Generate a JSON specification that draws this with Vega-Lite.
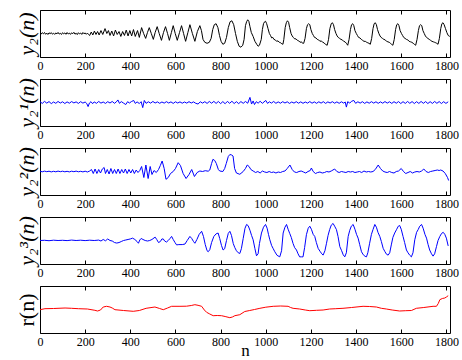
{
"$schema": "https://vega.github.io/schema/vega-lite/v6.json",
"padding": {"left": 14, "top": 9, "right": 5, "bottom": 27},
"background": "white",
"bounds": "flush",
"spacing": 22,
"config": {
  "view": {"stroke": "black", "strokeWidth": 1},
  "font": "Liberation Serif",
  "axis": {"labelFont": "Liberation Serif", "labelFontSize": 12, "labelColor": "black", "titleFont": "Liberation Serif", "titleColor": "black", "titleFontWeight": "normal", "grid": false, "domain": false, "tickColor": "black", "labelFlush": false, "format": "d"},
  "axisY": {"ticks": true, "tickSize": 0, "tickOpacity": 0, "labels": false, "titleFontSize": 22, "titlePadding": 2, "titleAngle": -90}
},
"datasets": {
"p1": [{"n":0,"v":0.5},{"n":5,"v":-0.6},{"n":10,"v":0.8},{"n":15,"v":-0.3},{"n":20,"v":1.0},{"n":25,"v":-0.8},{"n":30,"v":0.4},{"n":35,"v":-1.0},{"n":40,"v":0.7},{"n":45,"v":-0.2},{"n":50,"v":0.9},{"n":55,"v":-0.7},{"n":60,"v":0.3},{"n":65,"v":-0.9},{"n":70,"v":0.6},{"n":75,"v":-0.4},{"n":80,"v":1.1},{"n":85,"v":-0.6},{"n":90,"v":0.2},{"n":95,"v":-1.0},{"n":100,"v":0.8},{"n":105,"v":-0.3},{"n":110,"v":0.6},{"n":115,"v":-0.8},{"n":120,"v":1.0},{"n":125,"v":-0.5},{"n":130,"v":0.4},{"n":135,"v":-0.9},{"n":140,"v":0.7},{"n":145,"v":-0.2},{"n":150,"v":1.2},{"n":155,"v":-0.7},{"n":160,"v":0.3},{"n":165,"v":-1.1},{"n":170,"v":0.8},{"n":175,"v":-0.4},{"n":180,"v":0.5},{"n":185,"v":-0.9},{"n":190,"v":1.0},{"n":195,"v":-0.3},{"n":200,"v":0.6},{"n":205,"v":-0.8},{"n":210,"v":0.4},{"n":215,"v":-1.0},
{"n":220,"v":-2},{"n":227,"v":1.5},{"n":234,"v":-1.5},{"n":241,"v":2.5},{"n":248,"v":-1},{"n":255,"v":2},{"n":262,"v":-1.5},{"n":270,"v":3},{"n":278,"v":-1},{"n":288,"v":5},{"n":296,"v":0},{"n":303,"v":3},{"n":310,"v":-2},{"n":318,"v":2.5},{"n":326,"v":-2.5},{"n":334,"v":3.5},{"n":342,"v":-1},{"n":350,"v":2},{"n":358,"v":-3},{"n":366,"v":2},{"n":374,"v":-2},{"n":382,"v":3.5},{"n":390,"v":-2.5},{"n":398,"v":3},{"n":406,"v":-2.5},{"n":414,"v":4},{"n":422,"v":-3},{"n":432,"v":3},{"n":440,"v":-4},
{"n":450,"v":6},{"n":459,"v":0},{"n":468,"v":-5},{"n":476,"v":1},{"n":484,"v":6},{"n":493,"v":0},{"n":502,"v":-6},{"n":510,"v":1},{"n":519,"v":7},{"n":528,"v":0},{"n":538,"v":-7},{"n":547,"v":1},{"n":556,"v":7},{"n":565,"v":0},{"n":573,"v":-7},{"n":582,"v":1},{"n":590,"v":8},{"n":599,"v":0},{"n":608,"v":-7},{"n":618,"v":1},{"n":627,"v":8},{"n":636,"v":0},{"n":645,"v":-8},{"n":655,"v":1},{"n":664,"v":9},{"n":675,"v":0},{"n":686,"v":-8},{"n":697,"v":2},{"n":708,"v":8},{"n":715,"v":3},{"n":722,"v":-6},{"n":730,"v":-9},{"n":740,"v":-10},{"n":750,"v":-9},{"n":758,"v":-5},{"n":765,"v":4},{"n":772,"v":9},{"n":780,"v":10},{"n":788,"v":6},{"n":795,"v":-2},{"n":802,"v":-8},{"n":810,"v":-11},{"n":818,"v":-10},{"n":826,"v":-4},{"n":834,"v":6},
{"n":842,"v":12},{"n":850,"v":13},{"n":858,"v":9},{"n":866,"v":0},{"n":874,"v":-8},{"n":882,"v":-13},{"n":890,"v":-14},{"n":898,"v":-12},{"n":904,"v":-6},{"n":910,"v":8},{"n":915,"v":12},{"n":920,"v":14},{"n":925,"v":12.5},{"n":930,"v":7},{"n":936,"v":1},{"n":944,"v":-3},{"n":952,"v":-8},{"n":960,"v":-11},{"n":966,"v":-13},{"n":972,"v":-12},{"n":980,"v":-6},{"n":985,"v":4},{"n":990,"v":10},{"n":995,"v":12},{"n":999,"v":12.5},{"n":1004,"v":10},{"n":1010,"v":5},{"n":1016,"v":0},{"n":1021,"v":-2},{"n":1026,"v":-4.5},{"n":1031,"v":-4},{"n":1036,"v":-6},{"n":1042,"v":-6.5},{"n":1048,"v":-8},{"n":1054,"v":-7.5},{"n":1060,"v":-9},{"n":1066,"v":-9.5},{"n":1071,"v":-10.5},{"n":1076,"v":-11},{"n":1080,"v":-6},{"n":1086,"v":6},{"n":1091,"v":11},{"n":1096,"v":13},{"n":1101,"v":11.5},{"n":1106,"v":6},{"n":1112,"v":0},{"n":1117,"v":-2.5},{"n":1122,"v":-4},{"n":1128,"v":-5.5},{"n":1134,"v":-5.5},{"n":1140,"v":-7},{"n":1146,"v":-7.5},{"n":1152,"v":-9},{"n":1158,"v":-8.5},{"n":1163,"v":-10},{"n":1168,"v":-10},{"n":1174,"v":-5},{"n":1180,"v":5},{"n":1185,"v":9},{"n":1190,"v":10},{"n":1195,"v":9},{"n":1200,"v":4},{"n":1206,"v":0},{"n":1211,"v":-2},{"n":1216,"v":-4},{"n":1222,"v":-4.5},{"n":1228,"v":-6},{"n":1234,"v":-6.5},{"n":1240,"v":-8},{"n":1246,"v":-7.5},{"n":1252,"v":-9},{"n":1258,"v":-9.5},{"n":1264,"v":-11},{"n":1272,"v":-12},{"n":1278,"v":-6},{"n":1284,"v":5},{"n":1290,"v":10},{"n":1295,"v":11},{"n":1300,"v":9},{"n":1305,"v":4},{"n":1311,"v":0},{"n":1316,"v":-2.5},{"n":1321,"v":-4},{"n":1327,"v":-5},{"n":1333,"v":-6},{"n":1339,"v":-6.5},{"n":1345,"v":-8},{"n":1351,"v":-8.5},{"n":1357,"v":-10},{"n":1363,"v":-12},{"n":1369,"v":-6},{"n":1375,"v":4},{"n":1380,"v":9},{"n":1385,"v":10},{"n":1390,"v":8},{"n":1395,"v":3},{"n":1401,"v":0},{"n":1406,"v":-2},{"n":1411,"v":-4},{"n":1417,"v":-4.5},{"n":1423,"v":-6},{"n":1429,"v":-7},{"n":1435,"v":-8},{"n":1441,"v":-8},{"n":1447,"v":-9},{"n":1452,"v":-9.5},{"n":1457,"v":-10},{"n":1463,"v":-11},{"n":1469,"v":-5},{"n":1475,"v":5},{"n":1480,"v":10},{"n":1485,"v":11},{"n":1490,"v":9},{"n":1495,"v":4},{"n":1501,"v":0},{"n":1506,"v":-2.5},{"n":1511,"v":-4},{"n":1517,"v":-5},{"n":1523,"v":-6},{"n":1529,"v":-6.5},{"n":1535,"v":-8},{"n":1541,"v":-8.5},{"n":1547,"v":-9},{"n":1552,"v":-10},{"n":1557,"v":-11},{"n":1563,"v":-12},{"n":1569,"v":-6},{"n":1575,"v":4},{"n":1580,"v":9},{"n":1585,"v":10},{"n":1590,"v":8},{"n":1595,"v":3},{"n":1601,"v":0},{"n":1606,"v":-2},{"n":1611,"v":-4},{"n":1617,"v":-5},{"n":1623,"v":-6},{"n":1629,"v":-6.5},{"n":1635,"v":-8},{"n":1641,"v":-8.5},{"n":1647,"v":-9},{"n":1653,"v":-10},{"n":1658,"v":-11},{"n":1664,"v":-12},{"n":1670,"v":-6},{"n":1676,"v":3},{"n":1681,"v":8},{"n":1686,"v":9},{"n":1691,"v":8},{"n":1696,"v":3},{"n":1702,"v":0},{"n":1707,"v":-2.5},{"n":1712,"v":-4},{"n":1718,"v":-5},{"n":1724,"v":-6},{"n":1730,"v":-7},{"n":1736,"v":-8},{"n":1742,"v":-8.5},{"n":1748,"v":-9},{"n":1753,"v":-9.5},{"n":1757,"v":-10},{"n":1763,"v":-11},{"n":1769,"v":-5},{"n":1775,"v":5},{"n":1780,"v":10},{"n":1785,"v":11},{"n":1790,"v":9},{"n":1796,"v":5},{"n":1802,"v":1},{"n":1808,"v":-2},{"n":1815,"v":-3}],
"p2": [{"n":0,"v":0.8},{"n":10,"v":-0.9},{"n":20,"v":1.1},{"n":30,"v":-0.6},{"n":40,"v":0.9},{"n":50,"v":-1.1},{"n":60,"v":0.5},{"n":70,"v":-0.8},{"n":80,"v":1.0},{"n":90,"v":-0.5},{"n":100,"v":0.7},{"n":110,"v":-1.0},{"n":120,"v":0.6},{"n":130,"v":-0.7},{"n":140,"v":0.9},{"n":150,"v":-0.4},{"n":160,"v":0.6},{"n":170,"v":-0.9},{"n":180,"v":0.8},{"n":190,"v":-0.6},{"n":200,"v":0.5},{"n":207,"v":-1.0},{"n":213,"v":-4.0},{"n":219,"v":-0.5},{"n":226,"v":0.8},{"n":233,"v":-1.2},{"n":240,"v":0.6},{"n":250,"v":-0.8},{"n":260,"v":1.0},{"n":270,"v":-0.6},{"n":280,"v":0.5},{"n":290,"v":-0.9},{"n":300,"v":0.8},{"n":310,"v":-0.5},{"n":320,"v":1.0},{"n":330,"v":-0.8},{"n":338,"v":0.6},{"n":345,"v":2.5},{"n":352,"v":-0.8},{"n":360,"v":0.9},{"n":370,"v":-0.6},{"n":380,"v":-2.0},{"n":388,"v":0.8},{"n":396,"v":-0.5},{"n":405,"v":0.9},{"n":415,"v":2.0},{"n":422,"v":-0.9},{"n":430,"v":0.6},{"n":440,"v":-1.0},{"n":448,"v":0.8},{"n":455,"v":-5.0},{"n":462,"v":2.0},{"n":470,"v":-0.8},{"n":480,"v":0.7},{"n":490,"v":-0.6},{"n":500,"v":1.0},{"n":510,"v":-0.5},{"n":520,"v":0.6},{"n":530,"v":-0.8},{"n":540,"v":0.5},{"n":550,"v":-0.6},{"n":560,"v":0.8},{"n":570,"v":-0.5},{"n":580,"v":0.6},{"n":590,"v":-0.9},{"n":600,"v":0.7},{"n":610,"v":-0.5},{"n":620,"v":0.6},{"n":630,"v":-0.7},{"n":640,"v":0.5},{"n":650,"v":-0.6},{"n":660,"v":0.8},{"n":670,"v":-0.5},{"n":680,"v":0.6},{"n":690,"v":-0.8},{"n":700,"v":-1.5},{"n":710,"v":0.7},{"n":720,"v":-0.6},{"n":730,"v":0.8},{"n":740,"v":-0.9},{"n":750,"v":1.0},{"n":760,"v":-0.7},{"n":770,"v":1.1},{"n":780,"v":-0.9},{"n":790,"v":1.0},{"n":800,"v":-1.1},{"n":810,"v":0.9},{"n":820,"v":-1.2},{"n":830,"v":1.1},{"n":840,"v":-0.8},{"n":850,"v":1.2},{"n":860,"v":-1.0},{"n":870,"v":0.8},{"n":880,"v":-1.1},{"n":890,"v":0.9},{"n":900,"v":-0.8},{"n":910,"v":1.0},{"n":920,"v":-0.7},{"n":930,"v":5.0},{"n":937,"v":-1.5},{"n":944,"v":1.5},{"n":950,"v":-2.0},{"n":958,"v":0.8},{"n":966,"v":-0.7},{"n":975,"v":1.2},{"n":985,"v":-0.8},{"n":1000,"v":2.0},{"n":1008,"v":-0.9},{"n":1016,"v":0.7},{"n":1025,"v":-0.6},{"n":1035,"v":1.0},{"n":1045,"v":-0.8},{"n":1055,"v":0.6},{"n":1065,"v":-0.7},{"n":1075,"v":0.8},{"n":1085,"v":-0.5},{"n":1095,"v":0.7},{"n":1105,"v":-0.9},{"n":1115,"v":0.5},{"n":1125,"v":-0.6},{"n":1135,"v":0.8},{"n":1145,"v":-0.7},{"n":1155,"v":0.6},{"n":1165,"v":-0.8},{"n":1175,"v":0.5},{"n":1185,"v":-0.6},{"n":1195,"v":0.9},{"n":1205,"v":-0.7},{"n":1215,"v":0.6},{"n":1225,"v":-0.8},{"n":1235,"v":0.7},{"n":1245,"v":-0.6},{"n":1255,"v":0.8},{"n":1265,"v":-0.9},{"n":1275,"v":0.6},{"n":1285,"v":-0.5},{"n":1295,"v":0.8},{"n":1305,"v":-0.7},{"n":1315,"v":0.6},{"n":1325,"v":-0.8},{"n":1335,"v":0.7},{"n":1345,"v":-0.6},{"n":1352,"v":0.5},{"n":1357,"v":-4.5},{"n":1363,"v":0.8},{"n":1372,"v":-0.6},{"n":1380,"v":1.2},{"n":1390,"v":2.0},{"n":1398,"v":-0.8},{"n":1408,"v":0.7},{"n":1418,"v":-0.6},{"n":1428,"v":0.8},{"n":1438,"v":-0.9},{"n":1448,"v":0.6},{"n":1458,"v":-0.7},{"n":1468,"v":0.8},{"n":1478,"v":-0.6},{"n":1488,"v":0.7},{"n":1498,"v":-0.8},{"n":1508,"v":0.6},{"n":1518,"v":-0.7},{"n":1528,"v":0.9},{"n":1538,"v":-0.6},{"n":1548,"v":0.7},{"n":1558,"v":-0.9},{"n":1568,"v":0.8},{"n":1578,"v":-0.7},{"n":1588,"v":0.9},{"n":1598,"v":-1.0},{"n":1608,"v":0.8},{"n":1618,"v":-0.9},{"n":1628,"v":1.0},{"n":1638,"v":-0.8},{"n":1648,"v":0.9},{"n":1658,"v":-1.0},{"n":1668,"v":0.8},{"n":1678,"v":-0.9},{"n":1688,"v":1.0},{"n":1698,"v":-0.8},{"n":1708,"v":0.9},{"n":1718,"v":-1.0},{"n":1728,"v":0.8},{"n":1738,"v":-0.9},{"n":1748,"v":1.0},{"n":1758,"v":-0.8},{"n":1768,"v":0.9},{"n":1778,"v":-1.0},{"n":1788,"v":0.8},{"n":1798,"v":-0.9},{"n":1808,"v":0.7}],
"p3": [{"n":0,"v":0.3},{"n":10,"v":-0.3},{"n":20,"v":0.4},{"n":30,"v":-0.2},{"n":40,"v":0.3},{"n":50,"v":-0.4},{"n":60,"v":0.2},{"n":70,"v":-0.3},{"n":80,"v":0.4},{"n":90,"v":-0.2},{"n":100,"v":0.3},{"n":110,"v":-0.3},{"n":120,"v":0.2},{"n":130,"v":-0.4},{"n":140,"v":0.3},{"n":150,"v":-0.2},{"n":160,"v":0.4},{"n":170,"v":-0.3},{"n":180,"v":0.2},{"n":190,"v":-0.4},{"n":200,"v":0.3},{"n":210,"v":-0.5},{"n":220,"v":0.5},{"n":228,"v":2},{"n":236,"v":-2},{"n":244,"v":2.5},{"n":252,"v":-2},{"n":260,"v":2},{"n":268,"v":-1.5},{"n":276,"v":2.5},{"n":284,"v":4},{"n":290,"v":-2},{"n":298,"v":2},{"n":306,"v":-2.5},{"n":314,"v":3},{"n":322,"v":-2},{"n":330,"v":2},{"n":338,"v":-2},{"n":346,"v":2.5},{"n":354,"v":-2},{"n":362,"v":2},{"n":370,"v":-1.5},{"n":378,"v":2.5},{"n":386,"v":-2},{"n":394,"v":2},{"n":402,"v":-1.5},{"n":410,"v":2},{"n":418,"v":-2},{"n":426,"v":1.5},{"n":434,"v":-1},{"n":442,"v":1},{"n":450,"v":5},{"n":460,"v":-6},{"n":469,"v":6.5},{"n":479,"v":-7},{"n":488,"v":5},{"n":496,"v":-3},{"n":505,"v":1},{"n":515,"v":-1},{"n":525,"v":2},{"n":533,"v":6},{"n":541,"v":10.5},{"n":550,"v":3},{"n":558,"v":-7.8},{"n":568,"v":-6},{"n":578,"v":-2},{"n":590,"v":0},{"n":600,"v":3},{"n":612,"v":8.8},{"n":622,"v":6},{"n":634,"v":-2},{"n":647,"v":-7},{"n":660,"v":-3},{"n":672,"v":2},{"n":684,"v":-5},{"n":696,"v":-1},{"n":708,"v":0.5},{"n":720,"v":0},{"n":732,"v":0.8},{"n":745,"v":0.3},{"n":752,"v":1.5},{"n":760,"v":8},{"n":766,"v":12.2},{"n":774,"v":11},{"n":781,"v":8},{"n":790,"v":2},{"n":796,"v":0.5},{"n":810,"v":0},{"n":818,"v":3},{"n":825,"v":8},{"n":834,"v":15},{"n":841,"v":17},{"n":849,"v":16.5},{"n":855,"v":15.5},{"n":862,"v":3},{"n":870,"v":-1.5},{"n":885,"v":-2.8},{"n":900,"v":0},{"n":910,"v":3},{"n":918,"v":6.5},{"n":926,"v":5},{"n":934,"v":2},{"n":944,"v":0.5},{"n":955,"v":-1},{"n":965,"v":0},{"n":975,"v":-1.5},{"n":985,"v":0.5},{"n":995,"v":-0.5},{"n":1005,"v":-1},{"n":1015,"v":0},{"n":1025,"v":-1},{"n":1035,"v":-0.5},{"n":1045,"v":-1.5},{"n":1055,"v":-0.5},{"n":1065,"v":-1},{"n":1075,"v":0},{"n":1085,"v":0.5},{"n":1095,"v":3},{"n":1107,"v":6.5},{"n":1117,"v":2},{"n":1127,"v":-0.5},{"n":1137,"v":-1},{"n":1147,"v":0},{"n":1157,"v":0.5},{"n":1167,"v":-0.5},{"n":1177,"v":-1.5},{"n":1187,"v":0},{"n":1197,"v":1},{"n":1202,"v":3.5},{"n":1210,"v":0},{"n":1220,"v":-2},{"n":1230,"v":-1},{"n":1240,"v":-0.5},{"n":1250,"v":-1.5},{"n":1260,"v":-1},{"n":1270,"v":0},{"n":1280,"v":-0.5},{"n":1290,"v":0.5},{"n":1305,"v":2.5},{"n":1315,"v":0},{"n":1325,"v":-1},{"n":1335,"v":0},{"n":1345,"v":-0.5},{"n":1355,"v":-1},{"n":1365,"v":0},{"n":1375,"v":-0.5},{"n":1385,"v":0},{"n":1395,"v":-1},{"n":1405,"v":-0.5},{"n":1415,"v":0},{"n":1425,"v":-1},{"n":1435,"v":0.5},{"n":1445,"v":-0.5},{"n":1455,"v":0},{"n":1465,"v":-0.5},{"n":1475,"v":0},{"n":1485,"v":2},{"n":1498,"v":6.5},{"n":1508,"v":3},{"n":1518,"v":0.5},{"n":1528,"v":-0.5},{"n":1538,"v":-1},{"n":1548,"v":0},{"n":1558,"v":-1},{"n":1568,"v":-1.5},{"n":1578,"v":0},{"n":1588,"v":0.5},{"n":1600,"v":3},{"n":1610,"v":0},{"n":1620,"v":-2},{"n":1630,"v":-1},{"n":1640,"v":0},{"n":1650,"v":-1.5},{"n":1660,"v":-0.5},{"n":1670,"v":0},{"n":1680,"v":-0.5},{"n":1690,"v":0.5},{"n":1700,"v":2.5},{"n":1710,"v":0},{"n":1720,"v":-1},{"n":1730,"v":0},{"n":1740,"v":0.5},{"n":1750,"v":1},{"n":1760,"v":1.5},{"n":1768,"v":1},{"n":1775,"v":1.5},{"n":1785,"v":0.5},{"n":1795,"v":-2},{"n":1805,"v":-6},{"n":1810,"v":-9}],
"p4": [{"n":0,"v":0},{"n":20,"v":0.2},{"n":40,"v":-0.2},{"n":60,"v":0.3},{"n":80,"v":0},{"n":100,"v":0.2},{"n":120,"v":-0.1},{"n":140,"v":0.4},{"n":160,"v":0},{"n":180,"v":0.3},{"n":200,"v":-0.1},{"n":220,"v":0.3},{"n":240,"v":0},{"n":260,"v":0.4},{"n":270,"v":-0.5},{"n":280,"v":1},{"n":290,"v":-0.3},{"n":300,"v":1.5},{"n":310,"v":0},{"n":320,"v":-0.5},{"n":330,"v":-2},{"n":340,"v":-2.5},{"n":350,"v":-2},{"n":360,"v":-1},{"n":370,"v":0},{"n":380,"v":0.5},{"n":390,"v":1},{"n":400,"v":1.5},{"n":410,"v":2.3},{"n":420,"v":1},{"n":430,"v":-1},{"n":436,"v":-2.7},{"n":442,"v":0.5},{"n":448,"v":2},{"n":456,"v":1},{"n":466,"v":0},{"n":476,"v":-0.5},{"n":486,"v":0},{"n":496,"v":1},{"n":505,"v":2.5},{"n":510,"v":3.3},{"n":517,"v":1},{"n":525,"v":-2},{"n":533,"v":-1},{"n":540,"v":1.5},{"n":546,"v":1.5},{"n":552,"v":-0.5},{"n":560,"v":-1.5},{"n":568,"v":0},{"n":576,"v":2},{"n":583,"v":4},{"n":590,"v":1},{"n":598,"v":-2},{"n":605,"v":-4.3},{"n":615,"v":-4},{"n":630,"v":-4},{"n":642,"v":-3.5},{"n":652,"v":0},{"n":664,"v":4},{"n":672,"v":2},{"n":680,"v":-1},{"n":686,"v":-2.7},{"n":695,"v":1},{"n":705,"v":6},{"n":716,"v":9},{"n":724,"v":4},{"n":732,"v":-4},{"n":740,"v":-10},{"n":745,"v":-11},{"n":752,"v":-9},{"n":760,"v":-2},{"n":770,"v":4},{"n":780,"v":6.5},{"n":789,"v":7.3},{"n":796,"v":2},{"n":804,"v":-5},{"n":811,"v":-9.3},{"n":818,"v":-8},{"n":826,"v":0},{"n":834,"v":7},{"n":841,"v":9},{"n":848,"v":5},{"n":856,"v":-3},{"n":863,"v":-7},{"n":870,"v":-10},{"n":878,"v":-12},{"n":885,"v":-12.7},{"n":892,"v":-8},{"n":900,"v":2},{"n":908,"v":12},{"n":915,"v":15.7},{"n":922,"v":14.5},{"n":930,"v":10},{"n":937,"v":5},{"n":944,"v":0.7},{"n":952,"v":-8},{"n":959,"v":-15},{"n":966,"v":-13},{"n":972,"v":-3},{"n":981,"v":7.3},{"n":990,"v":13},{"n":999,"v":15.7},{"n":1006,"v":12},{"n":1012,"v":6},{"n":1018,"v":0.7},{"n":1026,"v":-5},{"n":1033,"v":-8},{"n":1040,"v":-11},{"n":1050,"v":-14.5},{"n":1062,"v":-16},{"n":1070,"v":-10},{"n":1077,"v":7.3},{"n":1085,"v":13},{"n":1092,"v":15.7},{"n":1099,"v":11},{"n":1106,"v":7},{"n":1113,"v":3},{"n":1121,"v":-3},{"n":1128,"v":-7},{"n":1136,"v":-9.3},{"n":1143,"v":-13},{"n":1150,"v":-16},{"n":1158,"v":-16},{"n":1165,"v":-16},{"n":1172,"v":-7},{"n":1180,"v":5.7},{"n":1188,"v":12},{"n":1195,"v":14},{"n":1202,"v":11},{"n":1210,"v":6},{"n":1217,"v":4},{"n":1224,"v":-2},{"n":1232,"v":-7.7},{"n":1240,"v":-10.5},{"n":1248,"v":-13},{"n":1254,"v":-14.3},{"n":1262,"v":-10},{"n":1269,"v":-2.7},{"n":1276,"v":5},{"n":1283,"v":10.7},{"n":1290,"v":15},{"n":1298,"v":16.7},{"n":1305,"v":14},{"n":1313,"v":10.7},{"n":1320,"v":4},{"n":1328,"v":-6},{"n":1336,"v":-10},{"n":1343,"v":-14},{"n":1350,"v":-16},{"n":1357,"v":-12},{"n":1365,"v":4},{"n":1372,"v":10},{"n":1379,"v":14},{"n":1387,"v":15.7},{"n":1395,"v":11},{"n":1402,"v":6},{"n":1409,"v":2.3},{"n":1416,"v":-4},{"n":1424,"v":-11},{"n":1432,"v":-14},{"n":1440,"v":-15.5},{"n":1446,"v":-16},{"n":1452,"v":-12},{"n":1460,"v":-2.7},{"n":1468,"v":6},{"n":1475,"v":10.7},{"n":1483,"v":15.7},{"n":1490,"v":13},{"n":1497,"v":8},{"n":1505,"v":4},{"n":1512,"v":-1},{"n":1520,"v":-7.7},{"n":1528,"v":-11},{"n":1535,"v":-13.5},{"n":1542,"v":-14.3},{"n":1549,"v":-12},{"n":1556,"v":-4.3},{"n":1563,"v":3},{"n":1571,"v":7.3},{"n":1580,"v":11},{"n":1587,"v":14},{"n":1593,"v":14.7},{"n":1600,"v":11},{"n":1608,"v":4},{"n":1615,"v":-2},{"n":1623,"v":-9.3},{"n":1630,"v":-12},{"n":1638,"v":-14.5},{"n":1645,"v":-16},{"n":1652,"v":-12},{"n":1660,"v":0.7},{"n":1668,"v":8},{"n":1675,"v":10.7},{"n":1682,"v":14},{"n":1690,"v":15.7},{"n":1697,"v":12},{"n":1705,"v":6},{"n":1712,"v":2.3},{"n":1719,"v":-4},{"n":1726,"v":-9.3},{"n":1734,"v":-13},{"n":1741,"v":-15.3},{"n":1748,"v":-13},{"n":1756,"v":-6},{"n":1763,"v":0},{"n":1771,"v":4},{"n":1779,"v":7},{"n":1786,"v":8},{"n":1793,"v":6},{"n":1800,"v":2.3},{"n":1808,"v":-5.3}],
"p5": [{"n":0,"v":-0.2},{"n":22,"v":0.8},{"n":60,"v":1.0},{"n":111,"v":1.5},{"n":140,"v":1.2},{"n":170,"v":0.8},{"n":210,"v":0.5},{"n":243,"v":-0.8},{"n":255,"v":-1.5},{"n":268,"v":-0.5},{"n":280,"v":2.5},{"n":295,"v":3.2},{"n":310,"v":2.5},{"n":320,"v":1.5},{"n":332,"v":-0.2},{"n":370,"v":-1.0},{"n":413,"v":-1.8},{"n":440,"v":-1.0},{"n":470,"v":1.2},{"n":509,"v":2.5},{"n":530,"v":1.0},{"n":546,"v":-0.2},{"n":565,"v":1.5},{"n":583,"v":3.2},{"n":620,"v":3.2},{"n":649,"v":3.3},{"n":670,"v":4.0},{"n":686,"v":4.8},{"n":700,"v":4.2},{"n":716,"v":3.2},{"n":728,"v":-0.5},{"n":738,"v":-2.8},{"n":752,"v":-4.5},{"n":767,"v":-6.2},{"n":785,"v":-6.0},{"n":804,"v":-6.2},{"n":820,"v":-7.0},{"n":841,"v":-8.2},{"n":852,"v":-7.5},{"n":863,"v":-6.2},{"n":885,"v":-5.2},{"n":907,"v":-2.0},{"n":929,"v":-1.0},{"n":950,"v":0.0},{"n":974,"v":1.2},{"n":1000,"v":2.3},{"n":1033,"v":3.2},{"n":1066,"v":3.5},{"n":1099,"v":3.2},{"n":1110,"v":2.0},{"n":1121,"v":1.2},{"n":1150,"v":0.5},{"n":1175,"v":-0.5},{"n":1195,"v":-1.2},{"n":1225,"v":-0.8},{"n":1254,"v":-0.5},{"n":1283,"v":0.5},{"n":1310,"v":0.8},{"n":1342,"v":1.2},{"n":1380,"v":2.0},{"n":1431,"v":3.2},{"n":1460,"v":3.0},{"n":1490,"v":2.5},{"n":1512,"v":1.2},{"n":1534,"v":0.5},{"n":1560,"v":-0.5},{"n":1593,"v":-1.5},{"n":1620,"v":-1.2},{"n":1645,"v":-1.0},{"n":1667,"v":1.2},{"n":1700,"v":2.0},{"n":1741,"v":3.2},{"n":1756,"v":3.2},{"n":1764,"v":6.0},{"n":1771,"v":9.8},{"n":1782,"v":11.0},{"n":1793,"v":11.5},{"n":1800,"v":12.5},{"n":1808,"v":13.8}]
},
"vconcat": [
{"width": 410, "height": 47, "data": {"name": "p1"},
 "layer": [
  {"mark": {"type": "line", "color": "black", "strokeWidth": 1},
   "encoding": {
    "x": {"field": "n", "type": "quantitative", "scale": {"domain": [0, 1816], "nice": false, "zero": false}, "axis": {"orient": "bottom", "values": [0,200,400,600,800,1000,1200,1400,1600,1800], "tickSize": -4, "labelPadding": 7, "title": null}},
    "y": {"field": "v", "type": "quantitative", "title": "y₂(n)", "scale": {"domain": [-24, 24], "nice": false}, "axis": {"titleFontStyle": "italic"}}}},
  {"mark": {"type": "line", "strokeOpacity": 0},
   "encoding": {
    "x": {"field": "n", "type": "quantitative", "axis": {"orient": "top", "values": [0,200,400,600,800,1000,1200,1400,1600,1800], "tickSize": -4, "labels": false, "title": null}},
    "y": {"field": "v", "type": "quantitative"}}}
 ]},
{"width": 410, "height": 47, "data": {"name": "p2"},
 "layer": [
  {"mark": {"type": "line", "color": "#0000ff", "strokeWidth": 1},
   "encoding": {
    "x": {"field": "n", "type": "quantitative", "scale": {"domain": [0, 1816], "nice": false, "zero": false}, "axis": {"orient": "bottom", "values": [0,200,400,600,800,1000,1200,1400,1600,1800], "tickSize": -4, "labelPadding": 7, "title": null}},
    "y": {"field": "v", "type": "quantitative", "title": "y₂¹(n)", "scale": {"domain": [-23, 23], "nice": false}, "axis": {"titleFontStyle": "italic"}}}},
  {"mark": {"type": "line", "strokeOpacity": 0},
   "encoding": {
    "x": {"field": "n", "type": "quantitative", "axis": {"orient": "top", "values": [0,200,400,600,800,1000,1200,1400,1600,1800], "tickSize": -4, "labels": false, "title": null}},
    "y": {"field": "v", "type": "quantitative"}}}
 ]},
{"width": 410, "height": 47, "data": {"name": "p3"},
 "layer": [
  {"mark": {"type": "line", "color": "#0000ff", "strokeWidth": 1},
   "encoding": {
    "x": {"field": "n", "type": "quantitative", "scale": {"domain": [0, 1816], "nice": false, "zero": false}, "axis": {"orient": "bottom", "values": [0,200,400,600,800,1000,1200,1400,1600,1800], "tickSize": -4, "labelPadding": 7, "title": null}},
    "y": {"field": "v", "type": "quantitative", "title": "y₂²(n)", "scale": {"domain": [-23.5, 23.5], "nice": false}, "axis": {"titleFontStyle": "italic"}}}},
  {"mark": {"type": "line", "strokeOpacity": 0},
   "encoding": {
    "x": {"field": "n", "type": "quantitative", "axis": {"orient": "top", "values": [0,200,400,600,800,1000,1200,1400,1600,1800], "tickSize": -4, "labels": false, "title": null}},
    "y": {"field": "v", "type": "quantitative"}}}
 ]},
{"width": 410, "height": 47, "data": {"name": "p4"},
 "layer": [
  {"mark": {"type": "line", "color": "#0000ff", "strokeWidth": 1},
   "encoding": {
    "x": {"field": "n", "type": "quantitative", "scale": {"domain": [0, 1816], "nice": false, "zero": false}, "axis": {"orient": "bottom", "values": [0,200,400,600,800,1000,1200,1400,1600,1800], "tickSize": -4, "labelPadding": 7, "title": null}},
    "y": {"field": "v", "type": "quantitative", "title": "y₂³(n)", "scale": {"domain": [-23, 23], "nice": false}, "axis": {"titleFontStyle": "italic"}}}},
  {"mark": {"type": "line", "strokeOpacity": 0},
   "encoding": {
    "x": {"field": "n", "type": "quantitative", "axis": {"orient": "top", "values": [0,200,400,600,800,1000,1200,1400,1600,1800], "tickSize": -4, "labels": false, "title": null}},
    "y": {"field": "v", "type": "quantitative"}}}
 ]},
{"width": 410, "height": 47, "data": {"name": "p5"},
 "layer": [
  {"mark": {"type": "line", "color": "#ff0000", "strokeWidth": 1},
   "encoding": {
    "x": {"field": "n", "type": "quantitative", "scale": {"domain": [0, 1816], "nice": false, "zero": false}, "axis": {"orient": "bottom", "values": [0,200,400,600,800,1000,1200,1400,1600,1800], "tickSize": -4, "labelPadding": 7, "title": "n", "titleFontSize": 17, "titlePadding": -5}},
    "y": {"field": "v", "type": "quantitative", "title": "r(n)", "scale": {"domain": [-23.5, 23.5], "nice": false}}}},
  {"mark": {"type": "line", "strokeOpacity": 0},
   "encoding": {
    "x": {"field": "n", "type": "quantitative", "axis": {"orient": "top", "values": [0,200,400,600,800,1000,1200,1400,1600,1800], "tickSize": -4, "labels": false, "title": null}},
    "y": {"field": "v", "type": "quantitative"}}}
 ]}
]
}
